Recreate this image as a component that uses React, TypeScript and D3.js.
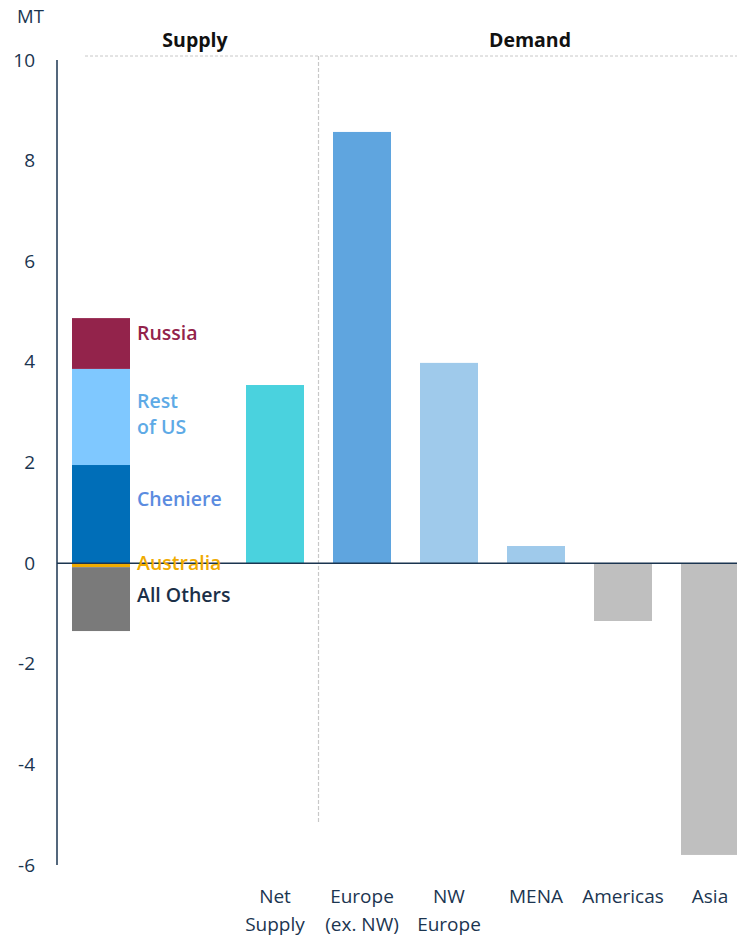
import React, { useEffect } from "react";
import * as d3 from "d3";

const categories = ["Supply", "", "Net Supply", "Europe (ex. NW)", "NW Europe", "MENA", "Americas", "Asia"];
const categoryLines = [[""], [""], ["Net", "Supply"], ["Europe", "(ex. NW)"], ["NW", "Europe"], ["MENA"], ["Americas"], ["Asia"]];

const supplyKeys = ["Australia", "All Others", "Cheniere", "Rest of US", "Russia"];
const supplyValues = [-0.08, -1.27, 1.95, 1.91, 1.01];
const supplyColors = ["#f0ab00", "#7a7a7a", "#006eb8", "#7fc8ff", "#93234b"];
const supplyLabelColors = ["#f0ab00", "#1b2f48", "#5b8ce0", "#5eaae6", "#93234b"];
const supplyLabelLines = [["Australia"], ["All Others"], ["Cheniere"], ["Rest", "of US"], ["Russia"]];

const demandCats = ["Net Supply", "Europe (ex. NW)", "NW Europe", "MENA", "Americas", "Asia"];
const demandValues = [3.54, 8.57, 3.98, 0.34, -1.15, -5.8];
const demandColors = ["#4ad2de", "#5fa5df", "#9fcaeb", "#9fcaeb", "#bfbfbf", "#bfbfbf"];

const yTicks = [10, 8, 6, 4, 2, 0, -2, -4, -6];

const W = 737;
const H = 937;
const FONT = "'Open Sans', 'Noto Sans', sans-serif";
const NAVY = "#1b3550";

export default function App() {
  useEffect(() => {
    document.body.style.margin = "0";
  }, []);

  const y = d3.scaleLinear().domain([-6, 10]).range([865, 60]);
  const pi = 1 / 3;
  const po = 15 / 87;
  const step = 87;
  const x0 = 57;
  const x = d3
    .scaleBand<string>()
    .domain(categories)
    .range([x0, x0 + step * (categories.length - pi + 2 * po)])
    .paddingInner(pi)
    .paddingOuter(po);
  const bw = x.bandwidth();

  let pos = 0;
  let neg = 0;
  const segs = supplyValues.map((v, i) => {
    let a: number, b: number;
    if (v >= 0) {
      a = pos;
      b = pos + v;
      pos = b;
    } else {
      a = neg;
      b = neg + v;
      neg = b;
    }
    return { key: supplyKeys[i], y0: Math.min(a, b), y1: Math.max(a, b), color: supplyColors[i], i };
  });

  const sx = x("Supply")!;
  const labelX = sx + bw + 7;
  const labelY: Record<string, number> = {
    Russia: y(4.58),
    "Rest of US": y(2.96),
    Cheniere: y(1.27),
    Australia: y(0),
    "All Others": y(-0.64),
  };

  const dividerX = (x("Net Supply")! + bw + x("Europe (ex. NW)")!) / 2;

  return (
    <svg width={W} height={H} style={{ display: "block", fontFamily: FONT }}>
      <line x1={85} x2={W} y1={56} y2={56} stroke="#c8c8c8" strokeWidth={1} strokeDasharray="3,2" />
      <line x1={dividerX} x2={dividerX} y1={56} y2={823} stroke="#c8c8c8" strokeWidth={1.2} strokeDasharray="4,2" />

      <text x={195} y={47} textAnchor="middle" fontSize={19.5} fontWeight={700} fill="#111">Supply</text>
      <text x={530} y={47} textAnchor="middle" fontSize={19.5} fontWeight={700} fill="#111">Demand</text>

      <text x={17} y={23} fontSize={18.5} fill={NAVY}>MT</text>

      {yTicks.map((t) => (
        <text key={t} x={35} y={y(t) + 6.5} textAnchor="end" fontSize={19} fill={NAVY}>
          {t}
        </text>
      ))}

      {segs.map((s) => (
        <rect key={s.key} x={sx} width={bw} y={y(s.y1)} height={y(s.y0) - y(s.y1)} fill={s.color} />
      ))}

      {demandCats.map((c, i) => {
        const v = demandValues[i];
        return (
          <rect
            key={c}
            x={x(c)}
            width={bw}
            y={y(Math.max(0, v))}
            height={Math.abs(y(v) - y(0))}
            fill={demandColors[i]}
          />
        );
      })}

      <line x1={x0} x2={x0} y1={60} y2={865} stroke={NAVY} strokeWidth={1.5} />
      <line x1={x0} x2={W} y1={y(0)} y2={y(0)} stroke={NAVY} strokeWidth={1.5} />

      {supplyKeys.map((k, i) => {
        const lines = supplyLabelLines[i];
        const cy = labelY[k];
        const lh = 26;
        const top = cy - ((lines.length - 1) * lh) / 2;
        return (
          <text key={k} x={labelX} fontSize={19.5} fontWeight={600} fill={supplyLabelColors[i]}>
            {lines.map((l, j) => (
              <tspan key={j} x={labelX} y={top + j * lh + 7}>
                {l}
              </tspan>
            ))}
          </text>
        );
      })}

      {categories.map((c, i) =>
        c ? (
          <text key={c} textAnchor="middle" fontSize={19} fill={NAVY}>
            {categoryLines[i].map((l, j) => (
              <tspan key={j} x={x(c)! + bw / 2} y={903 + j * 28}>
                {l}
              </tspan>
            ))}
          </text>
        ) : null
      )}
    </svg>
  );
}
